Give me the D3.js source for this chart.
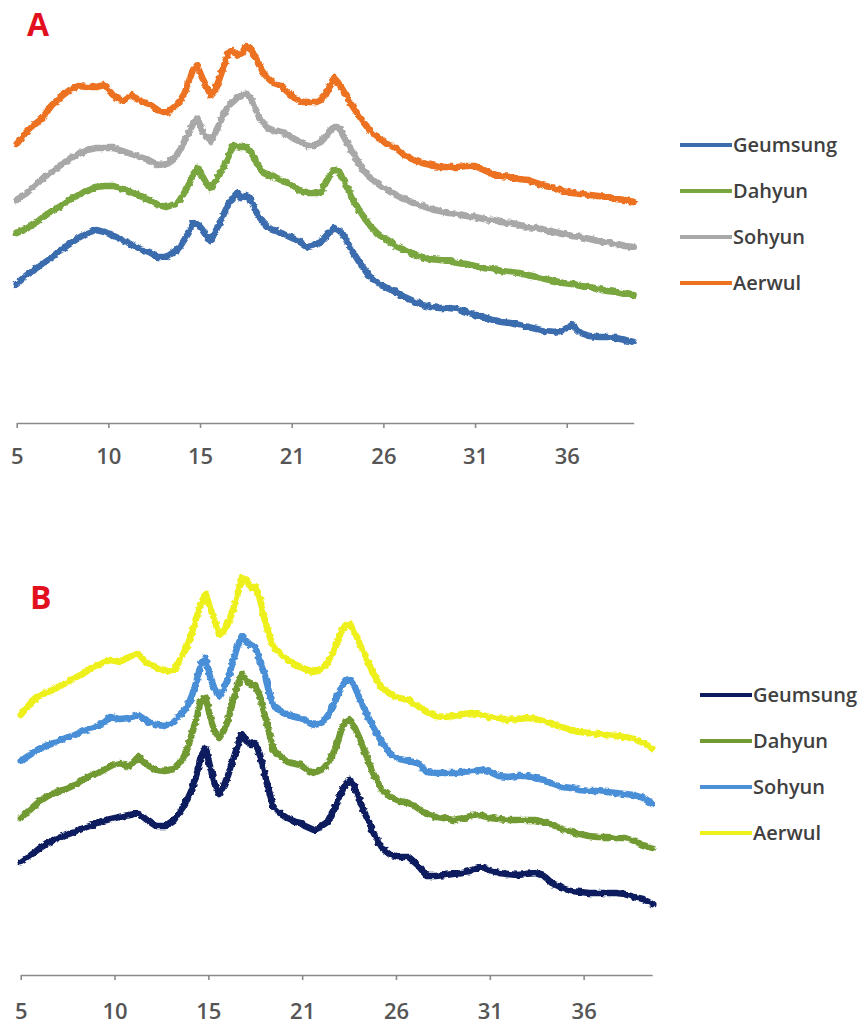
<!DOCTYPE html>
<html>
<head>
<meta charset="utf-8">
<script src="https://cdn.jsdelivr.net/npm/d3@7/dist/d3.min.js"></script>
<style>
  body { margin: 0; background: #ffffff; }
  svg { display: block; }
</style>
</head>
<body>
<svg id="chart" width="867" height="1024"></svg>
<script>
// Diffraction angle (2θ, degrees) of each sample point; finer steps across the crystalline peaks.
const twoTheta = [
  5, 5.5, 6, 6.5, 7, 7.5, 8, 8.5, 9, 9.5, 10, 10.5, 11, 11.5, 12, 12.5, 13, 13.5,
  14, 14.25, 14.5, 14.75, 15, 15.25, 15.5, 15.75, 16, 16.25, 16.5, 16.75, 17, 17.25, 17.5, 17.75,
  18, 18.25, 18.5, 18.75, 19, 19.25, 19.5, 19.75, 20, 20.25, 20.5, 20.75, 21, 21.25, 21.5, 21.75,
  22, 22.25, 22.5, 22.75, 23, 23.25, 23.5, 23.75,
  24, 24.5, 25, 25.5, 26, 26.5, 27, 27.5, 28, 28.5, 29, 29.5, 30, 30.5, 31, 31.5, 32, 32.5,
  33, 33.5, 34, 34.5, 35, 35.5, 36, 36.5, 37, 37.5, 38, 38.5, 39, 39.5, 40
];

// Category-style axis: positions in 2θ and the rounded labels shown under them.
const tickValues = [5, 10.2, 15.4, 20.6, 25.8, 31, 36.2];
const tickLabels = ["5", "10", "15", "21", "26", "31", "36"];

const samples = ["Geumsung", "Dahyun", "Sohyun", "Aerwul"];

// Panel A intensities (arbitrary units, traces stacked by offset)
const geumsungA = [
  139,147,153,160,166,173,179,185,190,193,191,187,183,179,174,171,166,166,
  172,176,183,190,200,199,194,187,182,191,199,209,219,225,230,225,227,225,214,206,200,196,193,192,190,188,186,184,182,179,176,177,179,181,186,191,195,193,189,181,
  173,159,147,140,135,131,126,122,118,116,115,115,114,111,108,106,103,101,100,98,96,94,92,91,93,98,90,87,86,86,85,83,81
];
const dahyunA = [
  190,194,199,206,212,217,223,228,232,236,237,237,234,231,227,223,218,216,
  219,223,230,238,248,255,248,240,234,241,248,257,266,277,277,276,276,272,264,256,250,248,247,245,243,241,239,236,233,232,230,230,230,231,239,247,253,253,244,235,
  225,211,198,189,183,177,173,169,166,164,163,162,160,159,157,155,154,152,151,150,148,146,144,142,140,139,137,136,134,132,131,129,128
];
const sohyunA = [
  223,229,237,245,251,258,264,269,273,275,275,275,272,269,266,263,258,259,
  266,273,281,290,299,305,293,286,282,290,299,309,317,321,325,327,330,325,317,305,300,295,293,292,291,290,287,284,282,280,277,277,279,281,286,292,296,296,288,280,
  272,257,246,239,233,228,224,220,217,214,212,210,209,207,206,204,203,201,200,198,196,195,193,191,189,187,186,184,182,181,179,177,176
];
const aerwulA = [
  279,290,298,306,318,326,333,337,336,336,338,327,322,328,322,319,313,310,
  317,322,329,341,353,358,346,337,328,333,344,357,370,372,368,369,377,375,367,359,350,345,341,338,337,333,329,325,323,321,321,321,321,323,328,336,345,340,333,326,
  318,305,293,285,279,275,268,263,260,258,256,256,256,257,257,253,249,247,246,244,243,240,237,235,232,230,229,228,227,226,224,223,221
];

// Panel B intensities (arbitrary units, traces stacked by offset)
const geumsungB = [
  113,119,126,132,136,140,143,147,150,154,156,158,160,162,155,149,149,155,
  168,176,186,201,219,227,208,191,181,189,200,214,228,241,234,231,232,221,203,185,168,164,160,157,155,153,152,149,147,145,147,150,153,162,171,182,191,195,188,176,
  165,144,127,120,118,118,110,99,99,100,101,102,105,108,105,102,101,100,101,102,99,91,87,84,83,82,82,82,82,81,78,76,71
];
const dahyunB = [
  157,165,173,179,183,186,190,196,200,204,209,212,208,218,210,205,204,206,
  217,226,242,257,275,278,258,244,237,244,255,273,288,301,295,291,290,279,262,244,225,221,217,213,212,211,210,207,204,202,204,206,211,219,229,244,254,256,248,238,
  227,203,185,178,174,172,167,161,158,157,155,157,159,160,157,156,155,155,155,155,153,150,146,143,141,139,138,138,137,137,134,130,127
];
const sohyunB = [
  214,220,226,230,233,237,240,244,247,251,258,256,257,260,254,250,249,253,
  263,269,280,294,312,317,298,286,279,286,297,313,328,339,334,330,328,315,302,284,269,266,263,260,259,258,257,255,252,250,251,253,259,266,277,287,294,295,289,278,
  268,249,233,221,216,214,212,203,202,202,202,203,204,205,203,199,198,199,199,197,195,191,188,187,185,184,184,183,182,181,180,177,171
];
const aerwulB = [
  260,271,279,283,287,292,297,302,308,312,315,313,318,321,312,308,304,305,
  321,330,343,358,372,381,367,354,340,344,352,364,379,397,395,388,388,377,357,341,328,324,320,315,313,310,308,306,304,303,305,307,312,320,330,342,350,351,343,333,
  323,303,287,281,277,275,269,263,259,258,259,261,262,260,258,257,255,256,257,256,254,251,248,245,243,242,241,240,239,238,236,232,227
];

const coloursA = ["#3b6cad", "#7aa63f", "#a8a8a8", "#ec7220"];
const coloursB = ["#0c1c5e", "#729a32", "#4a8fd8", "#eef01c"];

const svg = d3.select("#chart");

// Rough edge on the traces, like a raw detector signal drawn with a heavy pen.
const filter = svg.append("defs").append("filter")
  .attr("id", "rough")
  .attr("filterUnits", "userSpaceOnUse")
  .attr("x", 0).attr("y", 0).attr("width", 867).attr("height", 1024);
filter.append("feTurbulence")
  .attr("type", "fractalNoise")
  .attr("baseFrequency", "0.22 0.3")
  .attr("numOctaves", 1)
  .attr("seed", 3)
  .attr("result", "noise");
filter.append("feDisplacementMap")
  .attr("in", "SourceGraphic")
  .attr("in2", "noise")
  .attr("scale", 4.5)
  .attr("xChannelSelector", "R")
  .attr("yChannelSelector", "G");

function drawPanel(cfg) {
  const g = svg.append("g");

  const x = d3.scaleLinear().domain([5, 40]).range([cfg.left, cfg.right]);
  const y = d3.scaleLinear().domain([0, 400]).range([cfg.axisY, cfg.axisY - 400]);

  // x axis
  const axis = d3.axisBottom(x)
    .tickValues(tickValues)
    .tickFormat((d, i) => tickLabels[i])
    .tickSizeInner(5)
    .tickSizeOuter(0)
    .tickPadding(cfg.tickPad);

  const ax = g.append("g")
    .attr("transform", `translate(0,${cfg.axisY})`)
    .call(axis);
  ax.select(".domain").attr("stroke", "#8a8a8a").attr("stroke-width", 1.6);
  ax.selectAll(".tick line").attr("stroke", "#8a8a8a").attr("stroke-width", 1.6);
  ax.selectAll(".tick text")
    .attr("fill", "#555555")
    .attr("font-family", "'Open Sans', sans-serif")
    .attr("font-weight", 600)
    .attr("font-size", 22);

  // diffraction traces
  const line = d3.line()
    .x((d, i) => x(twoTheta[i]))
    .y(d => y(d))
    .curve(d3.curveLinear);

  const traces = g.append("g").attr("filter", "url(#rough)");
  cfg.series.forEach((vals, k) => {
    traces.append("path")
      .datum(vals)
      .attr("fill", "none")
      .attr("stroke", cfg.colours[k])
      .attr("stroke-width", 6.5)
      .attr("stroke-linejoin", "round")
      .attr("stroke-linecap", "round")
      .attr("d", line);
  });

  // panel letter
  g.append("text")
    .attr("x", cfg.letterX)
    .attr("y", cfg.letterY)
    .attr("fill", "#e2101f")
    .attr("font-family", "'Open Sans', sans-serif")
    .attr("font-weight", 700)
    .attr("font-size", 32)
    .text(cfg.letter);

  // legend
  const leg = g.append("g");
  samples.forEach((name, k) => {
    const ly = cfg.legendY + k * 46;
    leg.append("line")
      .attr("x1", cfg.legendX).attr("x2", cfg.legendX + 52)
      .attr("y1", ly).attr("y2", ly)
      .attr("stroke", cfg.colours[k])
      .attr("stroke-width", 4);
    leg.append("text")
      .attr("x", cfg.legendX + 53)
      .attr("y", ly)
      .attr("dy", "0.35em")
      .attr("fill", "#404040")
      .attr("font-family", "'Open Sans', sans-serif")
      .attr("font-weight", 600)
      .attr("font-size", 20)
      .text(name);
  });
}

drawPanel({
  letter: "A", letterX: 27, letterY: 36,
  left: 16.7, right: 633.7, axisY: 423, tickPad: 20,
  series: [geumsungA, dahyunA, sohyunA, aerwulA],
  colours: coloursA,
  legendX: 680, legendY: 145
});

drawPanel({
  letter: "B", letterX: 30, letterY: 609,
  left: 20.7, right: 652.2, axisY: 975, tickPad: 23,
  series: [geumsungB, dahyunB, sohyunB, aerwulB],
  colours: coloursB,
  legendX: 700, legendY: 695
});
</script>
</body>
</html>
